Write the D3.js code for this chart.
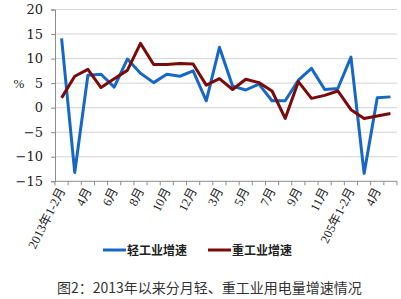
<!DOCTYPE html>
<html>
<head>
<meta charset="utf-8">
<script src="https://cdn.jsdelivr.net/npm/d3@7"></script>
<style>
  body { margin: 0; background: #fff; }
</style>
</head>
<body>
<svg id="chart"></svg>
<script>
// month labels (index 22 keeps the original "205年" spelling)
const months = ["2013年1-2月", "3月", "4月", "5月", "6月", "7月", "8月", "9月", "10月", "11月", "12月",
    "2014年1-2月", "3月", "4月", "5月", "6月", "7月", "8月", "9月", "10月", "11月", "12月",
    "205年1-2月", "3月", "4月", "5月"];
const light = [14.1, -13.2, 6.6, 6.8, 4.2, 9.9, 7.0, 5.1, 6.8, 6.4, 7.5, 1.4, 12.3, 4.4, 3.6, 4.8,
    1.4, 1.4, 5.6, 8.0, 3.7, 3.9, 10.3, -13.4, 2.0, 2.2];
const heavy = [2.0, 6.4, 7.8, 4.1, 5.9, 7.6, 13.1, 8.8, 8.8, 9.0, 8.9, 4.6, 5.9, 3.7, 5.8, 5.1,
    3.4, -2.2, 5.3, 1.9, 2.5, 3.4, -0.4, -2.2, -1.7, -1.2];
const yTicks = [-15, -10, -5, 0, 5, 10, 15, 20];
const seriesNames = ["轻工业增速", "重工业增速"];
const colors = ["#1668c6", "#7b0a0a"];

const width = 401, height = 299;
const margin = { top: 9.5, right: 5, bottom: 118, left: 55 };

const svg = d3.select("#chart")
    .attr("width", width)
    .attr("height", height);

const x = d3.scaleBand()
    .domain(d3.range(months.length))
    .range([margin.left, 397]);
const y = d3.scaleLinear()
    .domain([-15, 20])
    .range([181.3, margin.top]);

// gridlines
svg.append("g")
    .selectAll("line")
    .data(yTicks.filter(d => d > -15))
    .join("line")
    .attr("x1", margin.left)
    .attr("x2", 397)
    .attr("y1", d => y(d))
    .attr("y2", d => y(d))
    .attr("stroke", "#d4d4d4")
    .attr("stroke-width", 1);

// y axis
const yAxis = svg.append("g")
    .attr("transform", `translate(${margin.left},0)`)
    .call(d3.axisLeft(y).tickValues(yTicks).tickSize(4).tickPadding(8));
yAxis.select(".domain").attr("stroke", "#8c8c8c");
yAxis.selectAll(".tick line").attr("stroke", "#8c8c8c");
yAxis.selectAll("text")
    .attr("font-family", "'DejaVu Serif', 'Liberation Serif', serif")
    .attr("font-size", 13)
    .attr("fill", "#222");

svg.append("text")
    .attr("x", 19)
    .attr("y", 88)
    .attr("text-anchor", "middle")
    .attr("font-family", "'Liberation Serif', serif")
    .attr("font-size", 13)
    .attr("fill", "#222")
    .text("%");

// x axis: line at the bottom plus ticks between categories
const xg = svg.append("g");
xg.append("line")
    .attr("x1", margin.left)
    .attr("x2", 397)
    .attr("y1", y(-15))
    .attr("y2", y(-15))
    .attr("stroke", "#8c8c8c");
xg.selectAll(".tk")
    .data(d3.range(months.length + 1))
    .join("line")
    .attr("class", "tk")
    .attr("x1", i => i < months.length ? x(i) : x.range()[1])
    .attr("x2", i => i < months.length ? x(i) : x.range()[1])
    .attr("y1", y(-15))
    .attr("y2", y(-15) + 4)
    .attr("stroke", "#8c8c8c");

xg.selectAll(".lbl")
    .data(d3.range(0, months.length, 2))
    .join("text")
    .attr("class", "lbl")
    .attr("transform", i => `translate(${x(i) + x.bandwidth() / 2 + 4},${y(-15) + 9}) rotate(-63)`)
    .attr("text-anchor", "end")
    .attr("font-family", "'Liberation Serif', 'Noto Sans CJK SC', serif")
    .attr("font-size", 12.5)
    .attr("fill", "#222")
    .text(i => months[i]);

// lines
const line = d3.line()
    .x((d, i) => x(i) + x.bandwidth() / 2)
    .y(d => y(d));

[light, heavy].forEach((s, k) => {
    svg.append("path")
        .datum(s)
        .attr("fill", "none")
        .attr("stroke", colors[k])
        .attr("stroke-width", 3)
        .attr("stroke-linejoin", "round")
        .attr("d", line);
});

// legend
const legend = svg.append("g");
seriesNames.forEach((name, k) => {
    const lx = 103 + k * 105;
    legend.append("line")
        .attr("x1", lx)
        .attr("x2", lx + 23)
        .attr("y1", 250)
        .attr("y2", 250)
        .attr("stroke", colors[k])
        .attr("stroke-width", 3);
    legend.append("text")
        .attr("x", lx + 24)
        .attr("y", 255)
        .attr("font-family", "'Noto Sans CJK SC', sans-serif")
        .attr("font-weight", "bold")
        .attr("font-size", 12)
        .attr("fill", "#222")
        .text(name);
});

// caption
svg.append("text")
    .attr("x", 57)
    .attr("y", 293)
    .attr("font-family", "'Noto Sans CJK SC', sans-serif")
    .attr("font-size", 14)
    .attr("fill", "#333")
    .text("图2：2013年以来分月轻、重工业用电量增速情况");
</script>
</body>
</html>
